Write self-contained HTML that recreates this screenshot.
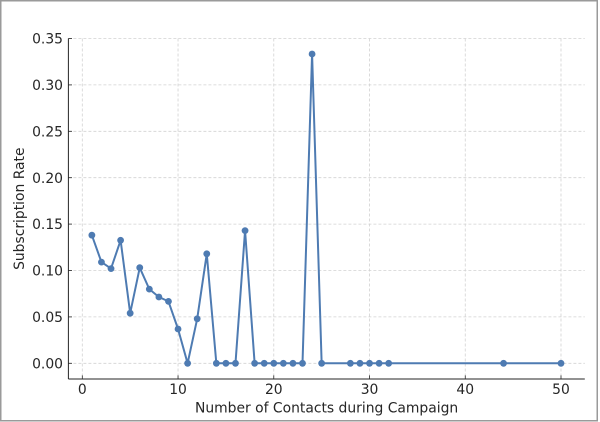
<!DOCTYPE html>
<html>
<head>
<meta charset="utf-8">
<style>
html,body{margin:0;padding:0;background:#fff;}
svg{display:block;}
text{font-family:"DejaVu Sans","Liberation Sans",sans-serif;font-size:13.89px;fill:#262626;}
</style>
</head>
<body>
<svg width="600" height="422" viewBox="0 0 600 422" xmlns="http://www.w3.org/2000/svg">
<rect x="0" y="0" width="600" height="422" fill="#fff"/>
<rect x="0.75" y="0.75" width="596.5" height="420" fill="none" stroke="#9a9a9a" stroke-width="1.5"/>

<!-- grid -->
<g stroke="#d2d2d2" stroke-width="0.8" stroke-dasharray="3,2" fill="none">
<line x1="68.4" x2="584.8" y1="363.3" y2="363.3"/>
<line x1="68.4" x2="584.8" y1="316.9" y2="316.9"/>
<line x1="68.4" x2="584.8" y1="270.5" y2="270.5"/>
<line x1="68.4" x2="584.8" y1="224.1" y2="224.1"/>
<line x1="68.4" x2="584.8" y1="177.7" y2="177.7"/>
<line x1="68.4" x2="584.8" y1="131.3" y2="131.3"/>
<line x1="68.4" x2="584.8" y1="84.9" y2="84.9"/>
<line x1="68.4" x2="584.8" y1="38.5" y2="38.5"/>
<line x1="82.3" x2="82.3" y1="38.5" y2="379"/>
<line x1="178.04" x2="178.04" y1="38.5" y2="379"/>
<line x1="273.78" x2="273.78" y1="38.5" y2="379"/>
<line x1="369.52" x2="369.52" y1="38.5" y2="379"/>
<line x1="465.26" x2="465.26" y1="38.5" y2="379"/>
<line x1="561.0" x2="561.0" y1="38.5" y2="379"/>
</g>

<!-- spines -->
<g stroke="#262626" stroke-width="1" fill="none">
<line x1="68.4" x2="68.4" y1="38.5" y2="379"/>
<line x1="68.4" x2="584.8" y1="379" y2="379"/>
</g>
<!-- ticks (inward) -->
<g stroke="#262626" stroke-width="0.8">
<line x1="68.4" x2="72" y1="363.3" y2="363.3"/>
<line x1="68.4" x2="72" y1="316.9" y2="316.9"/>
<line x1="68.4" x2="72" y1="270.5" y2="270.5"/>
<line x1="68.4" x2="72" y1="224.1" y2="224.1"/>
<line x1="68.4" x2="72" y1="177.7" y2="177.7"/>
<line x1="68.4" x2="72" y1="131.3" y2="131.3"/>
<line x1="68.4" x2="72" y1="84.9" y2="84.9"/>
<line x1="68.4" x2="72" y1="38.5" y2="38.5"/>
<line x1="82.3" x2="82.3" y1="379" y2="375.4"/>
<line x1="178.04" x2="178.04" y1="379" y2="375.4"/>
<line x1="273.78" x2="273.78" y1="379" y2="375.4"/>
<line x1="369.52" x2="369.52" y1="379" y2="375.4"/>
<line x1="465.26" x2="465.26" y1="379" y2="375.4"/>
<line x1="561.0" x2="561.0" y1="379" y2="375.4"/>
</g>

<!-- y tick labels -->
<g text-anchor="end">
<text x="63" y="368.4">0.00</text>
<text x="63" y="322.0">0.05</text>
<text x="63" y="275.6">0.10</text>
<text x="63" y="229.2">0.15</text>
<text x="63" y="182.8">0.20</text>
<text x="63" y="136.4">0.25</text>
<text x="63" y="90.0">0.30</text>
<text x="63" y="43.6">0.35</text>
</g>
<!-- x tick labels -->
<g text-anchor="middle">
<text x="82.3" y="394">0</text>
<text x="178.04" y="394">10</text>
<text x="273.78" y="394">20</text>
<text x="369.52" y="394">30</text>
<text x="465.26" y="394">40</text>
<text x="561.0" y="394">50</text>
</g>

<text x="326.6" y="412.3" text-anchor="middle">Number of Contacts during Campaign</text>
<text transform="translate(24.2,208.7) rotate(-90)" text-anchor="middle">Subscription Rate</text>

<!-- series -->
<polyline fill="none" stroke="#4e7bb2" stroke-width="2" stroke-linejoin="round"
points="91.87,235.2 101.45,262.1 111.02,268.6 120.6,240.3 130.17,313.2 139.74,267.7 149.32,289.1 158.89,297.0 168.47,301.4 178.04,329.0 187.61,363.3 197.19,318.8 206.76,253.8 216.34,363.3 225.91,363.3 235.48,363.3 245.06,230.6 254.63,363.3 264.21,363.3 273.78,363.3 283.35,363.3 292.93,363.3 302.5,363.3 312.08,54.0 321.65,363.3 350.37,363.3 359.95,363.3 369.52,363.3 379.09,363.3 388.67,363.3 503.56,363.3 561.0,363.3"/>
<g fill="#4e7bb2">
<circle cx="91.87" cy="235.2" r="3.4"/>
<circle cx="101.45" cy="262.1" r="3.4"/>
<circle cx="111.02" cy="268.6" r="3.4"/>
<circle cx="120.6" cy="240.3" r="3.4"/>
<circle cx="130.17" cy="313.2" r="3.4"/>
<circle cx="139.74" cy="267.7" r="3.4"/>
<circle cx="149.32" cy="289.1" r="3.4"/>
<circle cx="158.89" cy="297.0" r="3.4"/>
<circle cx="168.47" cy="301.4" r="3.4"/>
<circle cx="178.04" cy="329.0" r="3.4"/>
<circle cx="187.61" cy="363.3" r="3.4"/>
<circle cx="197.19" cy="318.8" r="3.4"/>
<circle cx="206.76" cy="253.8" r="3.4"/>
<circle cx="216.34" cy="363.3" r="3.4"/>
<circle cx="225.91" cy="363.3" r="3.4"/>
<circle cx="235.48" cy="363.3" r="3.4"/>
<circle cx="245.06" cy="230.6" r="3.4"/>
<circle cx="254.63" cy="363.3" r="3.4"/>
<circle cx="264.21" cy="363.3" r="3.4"/>
<circle cx="273.78" cy="363.3" r="3.4"/>
<circle cx="283.35" cy="363.3" r="3.4"/>
<circle cx="292.93" cy="363.3" r="3.4"/>
<circle cx="302.5" cy="363.3" r="3.4"/>
<circle cx="312.08" cy="54.0" r="3.4"/>
<circle cx="321.65" cy="363.3" r="3.4"/>
<circle cx="350.37" cy="363.3" r="3.4"/>
<circle cx="359.95" cy="363.3" r="3.4"/>
<circle cx="369.52" cy="363.3" r="3.4"/>
<circle cx="379.09" cy="363.3" r="3.4"/>
<circle cx="388.67" cy="363.3" r="3.4"/>
<circle cx="503.56" cy="363.3" r="3.4"/>
<circle cx="561.0" cy="363.3" r="3.4"/>
</g>
</svg>
</body>
</html>
